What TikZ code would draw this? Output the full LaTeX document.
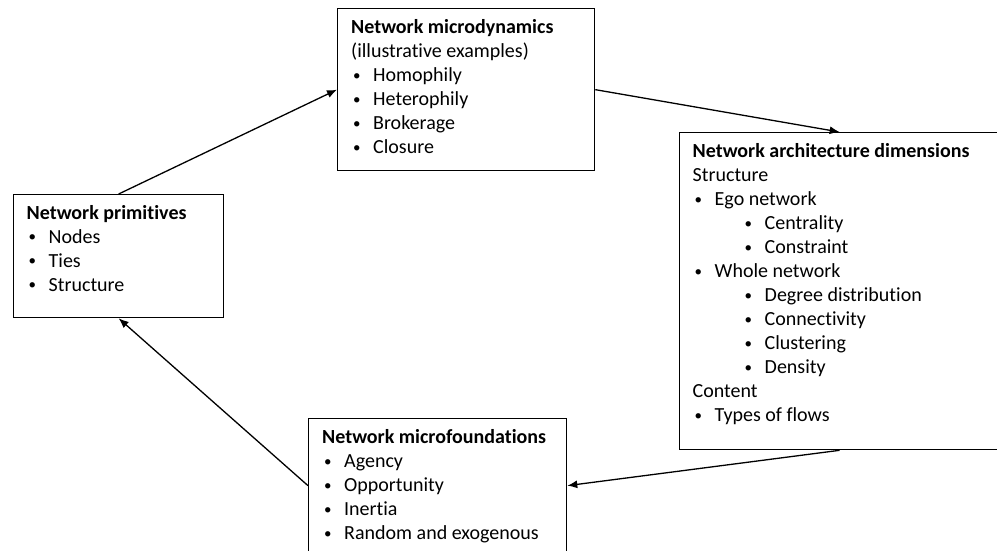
\documentclass[tikz,border=0pt]{standalone}
\usepackage{fontspec}
\setmainfont[RawFeature=-liga]{Carlito}
\usetikzlibrary{arrows.meta}
% bulleted lines, first and second level
\newcommand\dotmark{\raisebox{1.2pt}{\fontsize{15}{15}\selectfont•}}
\newcommand\bitem[1]{\makebox[22pt][l]{\hspace*{2pt}\dotmark}#1}
\newcommand\bsub[1]{\hspace*{50pt}\makebox[22pt][l]{\hspace*{2pt}\dotmark}#1}
\newcommand\boxtext[1]{\parbox[t]{300pt}{\fontsize{20}{24}\selectfont #1}}
\begin{document}
\begin{tikzpicture}[x=1pt,y=-1pt,
  box/.style={draw,line width=1.3pt,rectangle,inner sep=0pt,anchor=north west},
  txt/.style={anchor=base west,inner sep=0pt},
  arr/.style={line width=1.3pt,-{Latex[length=10pt,width=8pt]}}]
\useasboundingbox (0,0) rectangle (997,550);
\fill[white] (0,0) rectangle (997,550);
\clip (0,0) rectangle (997,550);

% boxes
\node[box,minimum width=210pt,minimum height=123pt] (prim) at (13,194) {};
\node[box,minimum width=257pt,minimum height=162pt] (dyn) at (337,8) {};
\node[box,minimum width=320pt,minimum height=317pt] (arch) at (679,132) {};
\node[box,minimum width=258pt,minimum height=134pt] (found) at (308,418) {};

% box contents
\node[txt] (primtext) at (26.5,219) {\boxtext{\textbf{Network primitives}\\
  \bitem{Nodes}\\ \bitem{Ties}\\ \bitem{Structure}}};
\node[txt] (dyntext) at (351,33.5) {\boxtext{\textbf{Network microdynamics}\\
  (illustrative examples)\\ \bitem{Homophily}\\ \bitem{Heterophily}\\
  \bitem{Brokerage}\\ \bitem{Closure}}};
\node[txt] (archtext) at (692.5,157.5) {\boxtext{\textbf{Network architecture dimensions}\\
  Structure\\ \bitem{Ego network}\\ \bsub{Centrality}\\ \bsub{Constraint}\\
  \bitem{Whole network}\\ \bsub{Degree distribution}\\ \bsub{Connectivity}\\
  \bsub{Clustering}\\ \bsub{Density}\\ Content\\ \bitem{Types of flows}}};
\node[txt] (foundtext) at (322,443.5) {\boxtext{\textbf{Network microfoundations}\\
  \bitem{Agency}\\ \bitem{Opportunity}\\ \bitem{Inertia}\\
  \bitem{Random and exogenous}}};

% cycle of arrows
\draw[arr] (prim.north) -- (dyn.west);
\draw[arr] (dyn.east) -- (arch.north);
\draw[arr] (arch.south) -- (found.east);
\draw[arr] (found.west) -- (prim.south);
\end{tikzpicture}
\end{document}
